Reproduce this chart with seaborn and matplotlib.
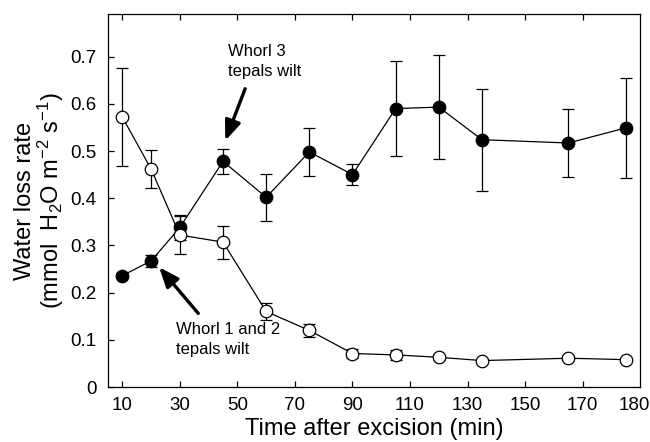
import numpy as np
import pandas as pd
import matplotlib
matplotlib.use("Agg")
import matplotlib.pyplot as plt
import seaborn as sns

# ---- data ----
time = [10, 20, 30, 45, 60, 75, 90, 105, 120, 135, 165, 185]
open_mean = [0.572, 0.462, 0.322, 0.307, 0.160, 0.120, 0.071, 0.068, 0.063, 0.056, 0.061, 0.058]
open_err = [0.103, 0.040, 0.040, 0.035, 0.017, 0.013, 0.009, 0.010, 0.005, 0.004, 0.004, 0.004]
filled_mean = [0.236, 0.267, 0.338, 0.478, 0.402, 0.498, 0.450, 0.590, 0.593, 0.524, 0.517, 0.549]
filled_err = [0.006, 0.012, 0.026, 0.026, 0.050, 0.050, 0.023, 0.100, 0.110, 0.108, 0.073, 0.106]

xtick_pos = [10, 30, 50, 70, 90, 110, 130, 150, 170, 188]
xtick_labels = ["10", "30", "50", "70", "90", "110", "130", "150", "170", "180"]
ytick_pos = [0, 0.1, 0.2, 0.3, 0.4, 0.5, 0.6, 0.7]
ytick_labels = ["0", "0.1", "0.2", "0.3", "0.4", "0.5", "0.6", "0.7"]

sns.set_theme(style="ticks")
plt.rcParams["font.family"] = ["Liberation Sans", "DejaVu Sans"]
plt.rcParams["mathtext.fontset"] = "custom"
plt.rcParams["mathtext.rm"] = "Liberation Sans"
plt.rcParams["mathtext.it"] = "Liberation Sans"
for k in ["text.color", "axes.labelcolor", "xtick.color", "ytick.color"]:
    plt.rcParams[k] = "black"

fig = plt.figure(figsize=(6.5, 4.42), dpi=100)
ax = fig.add_axes([0.166, 0.1244, 0.819, 0.8436])

df_open = pd.DataFrame({"time": time, "rate": open_mean})
df_filled = pd.DataFrame({"time": time, "rate": filled_mean})

# error bars
ax.errorbar(time, open_mean, yerr=open_err, fmt="none", ecolor="black",
            elinewidth=0.9, capsize=4, capthick=0.9, zorder=2)
ax.errorbar(time, filled_mean, yerr=filled_err, fmt="none", ecolor="black",
            elinewidth=0.9, capsize=4, capthick=0.9, zorder=2)

sns.lineplot(data=df_filled, x="time", y="rate", ax=ax, color="black",
             linewidth=0.9, marker="o", markersize=9, markerfacecolor="black",
             markeredgecolor="black", markeredgewidth=0.9, zorder=3)
sns.lineplot(data=df_open, x="time", y="rate", ax=ax, color="black",
             linewidth=0.9, marker="o", markersize=9, markerfacecolor="white",
             markeredgecolor="black", markeredgewidth=0.9, zorder=3)

ax.set_xlim(5, 190)
ax.set_ylim(0, 0.79)

ax.set_xticks(xtick_pos)
ax.set_xticklabels(xtick_labels, fontsize=13.5)
ax.set_yticks(ytick_pos)
ax.set_yticklabels(ytick_labels, fontsize=13.5)

ax.tick_params(axis="x", direction="in", length=4, width=0.9, top=True,
               bottom=True, pad=7, color="black")
ax.tick_params(axis="y", direction="in", length=4, width=0.9, left=True,
               right=False, pad=8, color="black")
# last x label ("180") sits at the right edge without a tick mark
xt = ax.xaxis.get_major_ticks()
xt[-1].tick1line.set_visible(False)
xt[-1].tick2line.set_visible(False)

for sp in ax.spines.values():
    sp.set_visible(True)
    sp.set_color("black")
    sp.set_linewidth(0.9)

ax.set_xlabel("Time after excision (min)", fontsize=17, labelpad=3)
ax.set_ylabel("Water loss rate\n(mmol  H$_2$O m$^{-2}$ s$^{-1}$)", fontsize=17,
              labelpad=3, linespacing=1.0)

# annotations
ax.annotate("", xy=(45.8, 0.522), xytext=(52.7, 0.632),
            arrowprops=dict(arrowstyle="-|>,head_length=1.0,head_width=0.4",
                            color="black", lw=2.4, shrinkA=0, shrinkB=0))
ax.text(46.8, 0.727, "Whorl 3\ntepals wilt", fontsize=12, ha="left",
        va="top", linespacing=1.4)

ax.annotate("", xy=(22.8, 0.254), xytext=(36.4, 0.156),
            arrowprops=dict(arrowstyle="-|>,head_length=1.0,head_width=0.4",
                            color="black", lw=2.4, shrinkA=0, shrinkB=0))
ax.text(28.7, 0.137, "Whorl 1 and 2\ntepals wilt", fontsize=12, ha="left",
        va="top", linespacing=1.35)

fig.savefig("out.png", dpi=100)
